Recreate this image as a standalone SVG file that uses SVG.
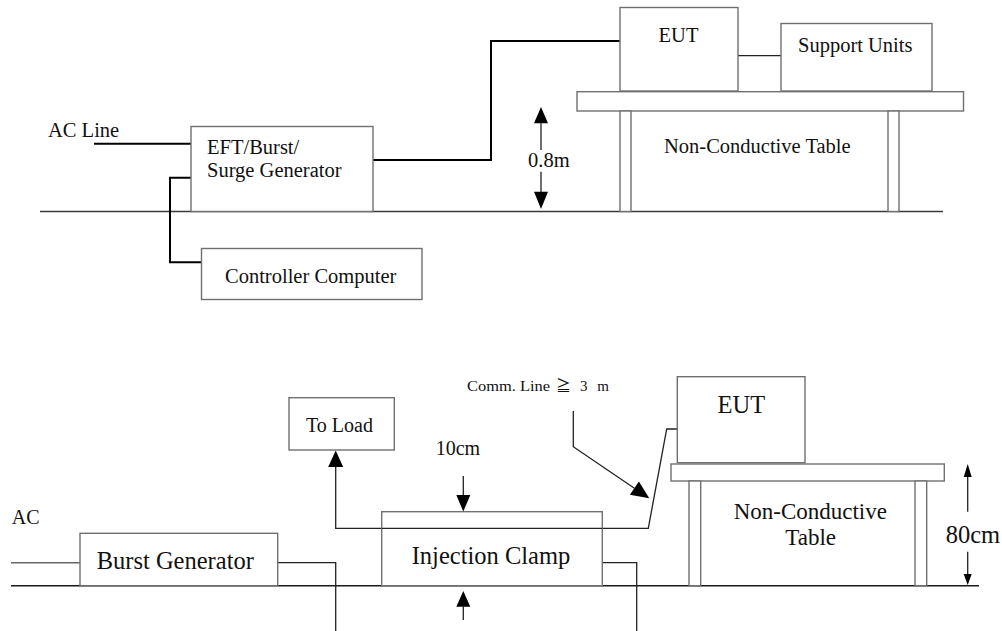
<svg xmlns="http://www.w3.org/2000/svg" width="1002" height="631" viewBox="0 0 1002 631">
<style>
text{font-family:"Liberation Serif","Times New Roman",serif;fill:#111}
.t20{font-size:20.5px}
.b24{font-size:24.5px}
.box{fill:#fff;stroke:#707070;stroke-width:1.4}
.gnd{stroke:#3a3a3a;stroke-width:1.4;fill:none}
.wire{stroke:#000;stroke-width:2;fill:none}
.thin{stroke:#222;stroke-width:1.3;fill:none}
.gw{stroke:#666;stroke-width:1.4;fill:none}
.head{fill:#000;stroke:none}
.cm{font-size:15px}
</style>
<rect width="1002" height="631" fill="#fff"/>

<!-- TOP DIAGRAM -->
<g id="ground-top"><line class="gnd" x1="40" y1="211.5" x2="943" y2="211.5"/></g>
<g id="connectors-top">
<line class="wire" x1="94" y1="143.7" x2="191" y2="143.7"/>
<polyline class="wire" points="191,177.7 170,177.7 170,262.3 201.5,262.3"/>
<polyline class="wire" points="373,160 491,160 491,41 620,41" />
<line class="thin" x1="738" y1="55.7" x2="781" y2="55.7"/>
</g>
<g id="label-acline"><text class="t20" x="48" y="137">AC Line</text></g>
<g id="eft-generator">
<rect class="box" x="191" y="126.5" width="182" height="85"/>
<text class="t20" x="207" y="154">EFT/Burst/</text>
<text class="t20" x="207" y="177">Surge Generator</text>
</g>
<g id="controller-computer">
<rect class="box" x="201.5" y="248.5" width="220.5" height="51"/>
<text class="t20" x="225" y="283">Controller Computer</text>
</g>
<g id="eut-top">
<rect class="box" x="620" y="7.5" width="118" height="83.5"/>
<text class="t20" x="678.5" y="41.5" text-anchor="middle">EUT</text>
</g>
<g id="support-units">
<rect class="box" x="781" y="23.5" width="151" height="67.5"/>
<text class="t20" x="798" y="51.7">Support Units</text>
</g>
<g id="table-top">
<rect class="box" x="577" y="91.7" width="386.5" height="19.3"/>
<rect class="box" x="620" y="111" width="11" height="100.5"/>
<rect class="box" x="888" y="111" width="11" height="100.5"/>
<text class="t20" x="664" y="153">Non-Conductive Table</text>
</g>
<g id="dim-08m">
<line class="thin" x1="541" y1="122" x2="541" y2="150"/>
<polygon class="head" points="541,107 534,123.3 548,123.3"/>
<text class="t20" x="528" y="166.7">0.8m</text>
<line class="thin" x1="541" y1="171.7" x2="541" y2="192"/>
<polygon class="head" points="541,209 534,191.7 548,191.7"/>
</g>

<!-- BOTTOM DIAGRAM -->
<g id="ground-bottom"><line class="gnd" x1="11" y1="585.7" x2="979" y2="585.7" style="stroke:#1a1a1a"/></g>
<g id="connectors-bottom">
<line class="gw" x1="11" y1="562.7" x2="80" y2="562.7"/>
<polyline class="thin" points="277.7,562.7 335.7,562.7 335.7,631"/>
<polyline class="thin" points="335.7,466 335.7,528.3 648.3,528.3 666.7,429 677.3,429"/>
<polygon class="head" points="335.7,450.5 328.2,467 343.2,467"/>
<polyline class="thin" points="602.3,562.7 636.7,562.7 636.7,631"/>
<polyline class="thin" points="573.3,411 573.3,446.7 634.4,488.2"/>
<polygon class="head" points="649.3,498.3 629.9,494.8 638.9,481.6"/>
</g>
<g id="label-ac"><text style="font-size:20px" x="11.7" y="524.3">AC</text></g>
<g id="burst-generator">
<rect class="box" x="80" y="533.3" width="197.7" height="52.4"/>
<text class="b24" x="96.7" y="569.3">Burst Generator</text>
</g>
<g id="to-load">
<rect class="box" x="289" y="397.7" width="105.3" height="52.3"/>
<text style="font-size:20px" x="306" y="432.3">To Load</text>
</g>
<g id="injection-clamp">
<rect class="box" x="381.7" y="511.7" width="220.6" height="74"/>
<line class="thin" x1="381.7" y1="528.3" x2="602.3" y2="528.3"/>
<text class="b24" x="411.7" y="564">Injection Clamp</text>
</g>
<g id="dim-10cm">
<text style="font-size:20px" x="435.7" y="455">10cm</text>
<line class="thin" x1="463.3" y1="476" x2="463.3" y2="496"/>
<polygon class="head" points="463.3,511.5 456.3,495 470.3,495"/>
<polygon class="head" points="463.3,591 456.3,606.7 470.3,606.7"/>
<line class="thin" x1="463.3" y1="606" x2="463.3" y2="620"/>
</g>
<g id="label-comm">
<text class="cm" x="467" y="390.7" textLength="83" lengthAdjust="spacingAndGlyphs">Comm. Line</text>
<text class="cm" style="font-family:'Liberation Serif','Noto Sans CJK JP',serif" x="556" y="390.7">≧</text>
<text class="cm" x="580" y="390.7" textLength="29" lengthAdjust="spacing">3 m</text>
</g>
<g id="eut-bottom">
<rect class="box" x="677.3" y="376.7" width="127.7" height="86"/>
<text class="b24" x="741.3" y="412.7" text-anchor="middle">EUT</text>
</g>
<g id="table-bottom">
<rect class="box" x="671" y="464" width="273.3" height="17"/>
<rect class="box" x="689" y="481" width="11.7" height="104.7"/>
<rect class="box" x="915" y="481" width="11.7" height="104.7"/>
<text style="font-size:23px" x="810.3" y="519.3" text-anchor="middle">Non-Conductive</text>
<text style="font-size:23px" x="810.7" y="545" text-anchor="middle">Table</text>
</g>
<g id="dim-80cm">
<line class="thin" x1="967.7" y1="476" x2="967.7" y2="511.7"/>
<polygon class="head" points="967.7,464 963.7,477 971.7,477"/>
<text class="b24" x="945.7" y="543.3">80cm</text>
<line class="thin" x1="967.7" y1="551.7" x2="967.7" y2="575"/>
<polygon class="head" points="967.7,585 963.7,574 971.7,574"/>
</g>
</svg>
